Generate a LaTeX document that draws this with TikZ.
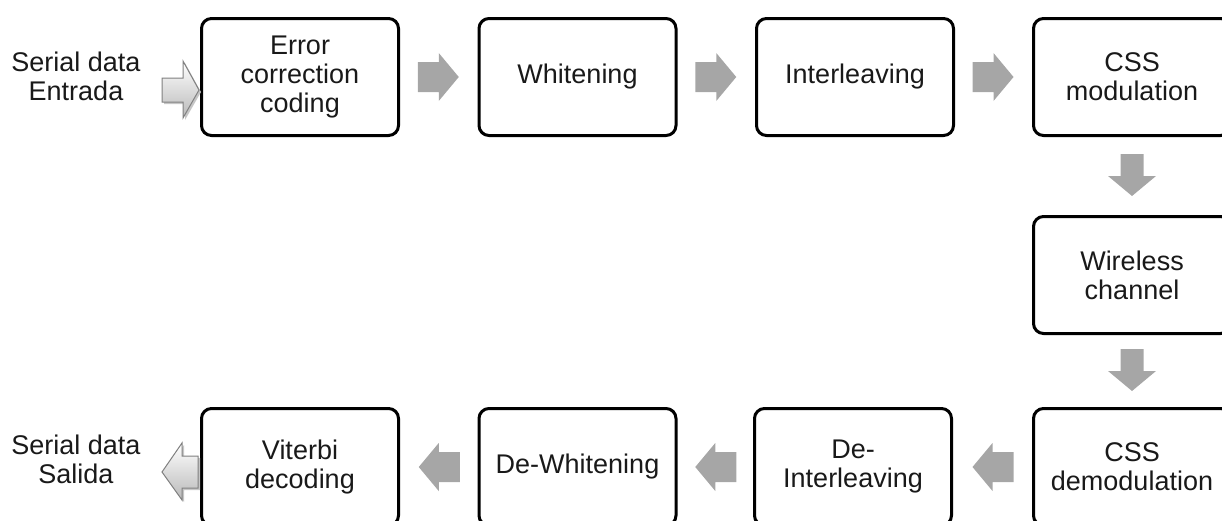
\documentclass[tikz,border=0pt]{standalone}
\usepackage{fontspec}
\setmainfont{Liberation Sans}
\usetikzlibrary{calc}
\definecolor{arrowgray}{RGB}{166,166,166}
\definecolor{txt}{RGB}{25,25,25}
\begin{document}
\begin{tikzpicture}[x=1pt,y=-1pt,
  box/.style={draw, line width=3pt, rounded corners=10pt, minimum width=197pt, minimum height=117pt, align=center, font=\fontsize{27}{29}\selectfont, text=txt, inner sep=0pt},
  lbl/.style={align=center, font=\fontsize{27}{29}\selectfont, text=txt, inner sep=0pt},
  harr/.pic={\fill[arrowgray] (-21,-15) -- (0,-15) -- (0,-24) -- (20,0) -- (0,24) -- (0,15) -- (-21,15) -- cycle;},
  varr/.pic={\fill[arrowgray] (-22,-11.5) -- (0,-11.5) -- (0,-24) -- (20,0) -- (0,24) -- (0,11.5) -- (-22,11.5) -- cycle;},
  ioarr/.style={draw=gray, line width=1pt, top color=white, bottom color=gray!55}
]
\useasboundingbox (0,0) rectangle (1222,520);
\clip (0,0) rectangle (1222,520);

% top row
\node[box] (b1) at (300,77) {Error\\correction\\coding};
\node[box] (b2) at (577.5,77) {Whitening};
\node[box] (b3) at (855,77) {Interleaving};
\node[box] (b4) at (1132,77) {CSS\\modulation};
% right column
\node[box] (b5) at (1132,275) {Wireless\\channel};
% bottom row
\node[box] (b6) at (1132,467) {CSS\\demodulation};
\node[box] (b7) at (853,467) {De-\\Interleaving};
\node[box] (b8) at (577.5,467) {De-Whitening};
\node[box] (b9) at (300,467) {Viterbi\\decoding};

% labels
\node[lbl] (in) at (76,76) {Serial data\\Entrada};
\node[lbl] (out) at (76,459) {Serial data\\Salida};

% block arrows
\path ($(b1.east)!0.5!(b2.west)$) pic {harr};
\path ($(b2.east)!0.5!(b3.west)$) pic {harr};
\path ($(b3.east)!0.5!(b4.west)$) pic {harr};
\path ($(b4.south)!0.5!(b5.north)$) pic[rotate=-90] {varr};
\path ($(b5.south)!0.5!(b6.north)$) pic[rotate=-90] {varr};
\path ($(b6.west)!0.5!(b7.east)$) pic[rotate=180] {harr};
\path ($(b7.west)!0.5!(b8.east)$) pic[rotate=180] {harr};
\path ($(b8.west)!0.5!(b9.east)$) pic[rotate=180] {harr};

% input arrow
\fill[gray!45] (164,80) -- (185,80) -- (185,63) -- (201,92) -- (185,120) -- (185,104) -- (164,104) -- cycle;
\path[ioarr] (162,78) -- (183,78) -- (183,61) -- (199,90) -- (183,118) -- (183,102) -- (162,102) -- cycle;
% output arrow
\fill[gray!45] (200,458) -- (184,458) -- (184,445) -- (164,474) -- (184,502) -- (184,490) -- (200,490) -- cycle;
\path[ioarr] (198,456) -- (182,456) -- (182,443) -- (162,472) -- (182,500) -- (182,488) -- (198,488) -- cycle;
\end{tikzpicture}
\end{document}
